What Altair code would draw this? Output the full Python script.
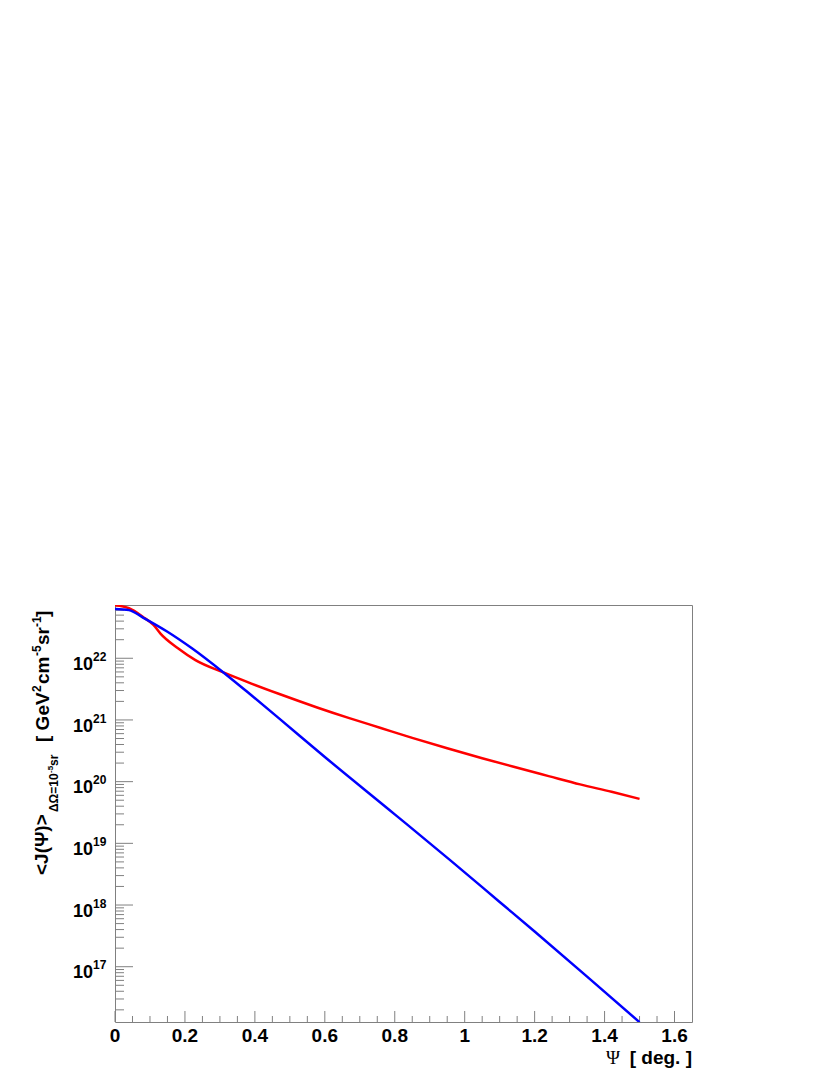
import altair as alt
import pandas as pd

# ---- data ----
red_psi = [0, 0.04, 0.08, 0.11, 0.13, 0.18, 0.23, 0.31, 0.39, 0.47, 0.58, 0.67,
           0.76, 0.85, 0.95, 1.05, 1.14, 1.24, 1.33, 1.42, 1.5]
red_J = [7.24e22, 6.46e22, 4.68e22, 3.47e22, 2.51e22, 1.45e22, 9.33e21, 5.89e21,
         3.89e21, 2.63e21, 1.58e21, 1.07e21, 7.41e20, 5.13e20, 3.47e20, 2.40e20,
         1.74e20, 1.23e20, 9.02e19, 6.84e19, 5.25e19]

blue_psi = [0, 0.04, 0.08, 0.15, 0.22, 0.31, 0.39, 0.47, 0.6, 0.8, 0.96, 1.1,
            1.2, 1.35, 1.5]
blue_J = [6.31e22, 6.03e22, 4.57e22, 2.69e22, 1.45e22, 5.89e21, 2.51e21, 1.05e21,
          2.51e20, 2.95e19, 5.25e18, 1.12e18, 3.72e17, 6.92e16, 1.26e16]

series_names = ["red profile", "blue profile"]
series_colors = ["#ff0000", "#0000ff"]

x_ticks = [0, 0.2, 0.4, 0.6, 0.8, 1.0, 1.2, 1.4, 1.6]
x_tick_text = ["0", "0.2", "0.4", "0.6", "0.8", "1", "1.2", "1.4", "1.6"]
x_minor = [round(i * 0.05, 2) for i in range(1, 33) if i % 4 != 0]
y_decades = [1e17, 1e18, 1e19, 1e20, 1e21, 1e22]
y_exponents = ["17", "18", "19", "20", "21", "22"]
y_minor = [m * 10.0 ** e for e in range(16, 23) for m in range(2, 10)
           if 1.27e16 <= m * 10.0 ** e <= 7.3e22]

X_DOMAIN = [0, 1.65]
Y_DOMAIN = [1.27e16, 7.3e22]
W, H = 577, 417
FONT = "Liberation Sans"
AX = "#808080"

lines_df = pd.DataFrame(
    {"psi": red_psi + blue_psi,
     "J": red_J + blue_J,
     "series": [series_names[0]] * len(red_psi) + [series_names[1]] * len(blue_psi)}
)

xs = alt.Scale(domain=X_DOMAIN, nice=False, zero=False)
ys = alt.Scale(type="log", domain=Y_DOMAIN, nice=False)

lines = alt.Chart(lines_df).mark_line(strokeWidth=2.5, clip=True, interpolate="monotone").encode(
    x=alt.X("psi:Q", scale=xs, axis=None),
    y=alt.Y("J:Q", scale=ys, axis=None),
    color=alt.Color("series:N", scale=alt.Scale(domain=series_names, range=series_colors),
                    legend=None),
    order=alt.Order("series:N", sort="descending"),
)

# x ticks (inward)
xmaj = alt.Chart(pd.DataFrame({"psi": x_ticks})).mark_rule(color=AX, strokeWidth=1).encode(
    x=alt.X("psi:Q", scale=xs, axis=None), y=alt.value(H), y2=alt.value(H - 11))
xmin = alt.Chart(pd.DataFrame({"psi": x_minor})).mark_rule(color=AX, strokeWidth=1).encode(
    x=alt.X("psi:Q", scale=xs, axis=None), y=alt.value(H), y2=alt.value(H - 6))
# y ticks (inward)
ymaj = alt.Chart(pd.DataFrame({"J": y_decades})).mark_rule(color=AX, strokeWidth=1).encode(
    y=alt.Y("J:Q", scale=ys, axis=None), x=alt.value(0), x2=alt.value(18))
ymin = alt.Chart(pd.DataFrame({"J": y_minor})).mark_rule(color=AX, strokeWidth=1).encode(
    y=alt.Y("J:Q", scale=ys, axis=None), x=alt.value(0), x2=alt.value(9))

# x tick labels
xlab = alt.Chart(pd.DataFrame({"psi": x_ticks, "t": x_tick_text})).mark_text(
    align="center", baseline="alphabetic", font=FONT, fontWeight="bold", fontSize=19,
    color="black").encode(
    x=alt.X("psi:Q", scale=xs, axis=None), y=alt.value(437), text="t:N")

# y tick labels 10^n
dec_df = pd.DataFrame({"J": y_decades, "exp": y_exponents})
ten = alt.Chart(dec_df).mark_text(text="10", align="right", baseline="alphabetic", dy=11.7,
                                  font=FONT, fontWeight="bold", fontSize=18, color="black").encode(
    y=alt.Y("J:Q", scale=ys, axis=None), x=alt.value(-22))
expo = alt.Chart(dec_df).mark_text(align="left", baseline="alphabetic", dy=2.7,
                                   font=FONT, fontWeight="bold", fontSize=12, color="black").encode(
    y=alt.Y("J:Q", scale=ys, axis=None), x=alt.value(-22), text="exp:N")

one = pd.DataFrame({"k": [0]})


def label(txt, x, y, size, angle=0, align="left", weight="bold", font=FONT):
    kw = dict(text=txt, align=align, baseline="alphabetic", font=font,
              fontSize=size, color="black", fontWeight=weight)
    if angle:
        kw["angle"] = angle
    return alt.Chart(one).mark_text(**kw).encode(x=alt.value(x), y=alt.value(y))


texts = [
    # x title
    label("[ deg. ]", W, 459, 19, align="right"),
    label("Ψ", 505, 459, 19, align="right", weight="normal", font="Liberation Serif"),
    # y title (rotated)
    label("<J(Ψ)>", -67.5, 270, 19, angle=270),
    label("ΔΩ=10", -57.5, 207, 12, angle=270),
    label("-5", -62.3, 168, 8, angle=270),
    label("sr", -57.5, 161, 12, angle=270),
    label("[ GeV", -66.5, 137, 19, angle=270),
    label("2", -74.5, 87, 12, angle=270),
    label("cm", -66.5, 79, 19, angle=270),
    label("-5", -74.5, 51, 12, angle=270),
    label("sr", -66.5, 40, 19, angle=270),
    label("-1", -74.5, 22, 12, angle=270),
    label(" ]", -66.5, 12, 19, angle=270),
]

chart = alt.layer(xmin, xmaj, ymin, ymaj, lines, xlab, ten, expo, *texts).properties(
    width=W, height=H,
    padding={"left": 107, "top": 597, "right": 20, "bottom": 60},
    autosize=alt.AutoSizeParams(type="none"),
    background="white",
).configure_view(stroke=AX, strokeWidth=1)

chart.save("out.html", embed_options={"renderer": "svg", "actions": False})
